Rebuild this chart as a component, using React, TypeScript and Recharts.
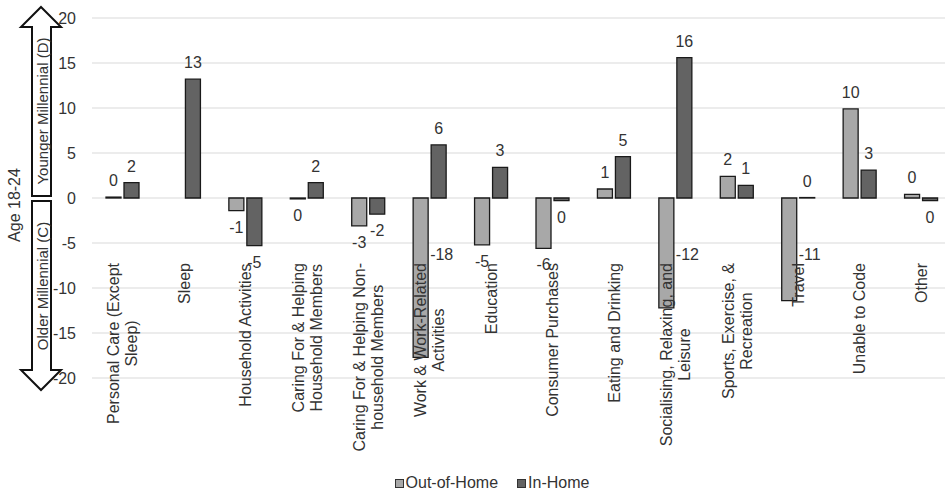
import React from 'react';
import { BarChart, Bar, XAxis, YAxis, CartesianGrid, LabelList, Legend } from 'recharts';

// activity categories, "\n" marks where the axis label wraps
const categories = [
  'Personal Care (Except\nSleep)',
  'Sleep',
  'Household Activities',
  'Caring For & Helping\nHousehold Members',
  'Caring For & Helping Non-\nhousehold Members',
  'Work & Work-Related\nActivities',
  'Education',
  'Consumer Purchases',
  'Eating and Drinking',
  'Socialising, Relaxing, and\nLeisure',
  'Sports, Exercise, &\nRecreation',
  'Travel',
  'Unable to Code',
  'Other',
];

const outOfHome = [0.1, 0, -1.4, -0.1, -3.1, -17.7, -5.2, -5.6, 1.0, -12.2, 2.4, -11.4, 9.9, 0.4];
const inHome = [1.7, 13.2, -5.3, 1.7, -1.8, 5.9, 3.4, -0.3, 4.6, 15.6, 1.4, 0.05, 3.1, -0.3];

const yTicks = [-20, -15, -10, -5, 0, 5, 10, 15, 20];

const seriesNames = ['Out-of-Home', 'In-Home'];
const seriesColors = ['#a8a8a8', '#636363'];

const data = categories.map((name, i) => ({ name, out: outOfHome[i], home: inHome[i] }));

const FONT = '"Liberation Sans", Arial, sans-serif';
const TEXT = '#333333';

let measureCtx: CanvasRenderingContext2D | null = null;
function textWidth(s: string) {
  if (!measureCtx) measureCtx = document.createElement('canvas').getContext('2d');
  if (!measureCtx) return s.length * 8;
  measureCtx.font = `16px ${FONT}`;
  return measureCtx.measureText(s).width;
}

function CategoryTick(props: any) {
  const { x, y, payload } = props;
  const lines = String(payload.value).split('\n');
  const longest = Math.max(...lines.map(textWidth));
  // labels hang from a line well below the zero axis, reading bottom to top
  const top = y - 115;
  const cy = top + longest / 2;
  return (
    <g transform={`translate(${x},${cy}) rotate(-90)`}>
      {lines.map((l, i) => (
        <text
          key={i}
          x={0}
          y={(i - (lines.length - 1) / 2) * 18}
          textAnchor="middle"
          dominantBaseline="central"
          fontSize={16}
          fontFamily={FONT}
          fill={TEXT}
        >
          {l}
        </text>
      ))}
    </g>
  );
}

function BarLabel(props: any) {
  const { x, y, width, height, value } = props;
  const v = Number(value);
  const top = Math.min(y, y + height);
  const bottom = Math.max(y, y + height);
  const r = Math.round(v);
  const text = String(r === 0 ? 0 : r);
  const common = { fontSize: 16, fontFamily: FONT, fill: TEXT };
  if (v <= -10) {
    return (
      <text x={x + width + 2} y={top + 56} dominantBaseline="central" textAnchor="start" {...common}>
        {text}
      </text>
    );
  }
  if (v >= 0) {
    return (
      <text x={x + width / 2} y={top - 11} textAnchor="middle" {...common}>
        {text}
      </text>
    );
  }
  return (
    <text x={x + width / 2} y={bottom + 22} textAnchor="middle" {...common}>
      {text}
    </text>
  );
}

function LegendContent() {
  return (
    <div
      style={{
        display: 'flex',
        justifyContent: 'center',
        gap: 19,
        fontFamily: FONT,
        fontSize: 16,
        color: TEXT,
        lineHeight: '18px',
      }}
    >
      {seriesNames.map((n, i) => (
        <span key={n} style={{ display: 'flex', alignItems: 'center' }}>
          <span
            style={{
              display: 'inline-block',
              width: 7,
              height: 7,
              background: seriesColors[i],
              border: '1px solid #333',
              marginRight: 2,
            }}
          />
          {n}
        </span>
      ))}
    </div>
  );
}

function AgeArrow() {
  const up = '41,7 61,27 51,27 51,196 32,196 32,27 21,27';
  const down = '32,201 51,201 51,370 61,370 41,390 21,370 32,370';
  return (
    <svg
      width={100}
      height={493}
      style={{ position: 'absolute', left: 0, top: 0, pointerEvents: 'none' }}
    >
      <polygon points={up} fill="#fff" stroke="#111" strokeWidth={2} strokeLinejoin="miter" />
      <polygon points={down} fill="#fff" stroke="#111" strokeWidth={2} strokeLinejoin="miter" />
      <text
        transform="translate(42,111) rotate(-90)"
        textAnchor="middle"
        dominantBaseline="central"
        fontSize={15}
        fontFamily={FONT}
        fill={TEXT}
      >
        Younger Millennial (D)
      </text>
      <text
        transform="translate(42,286) rotate(-90)"
        textAnchor="middle"
        dominantBaseline="central"
        fontSize={15}
        fontFamily={FONT}
        fill={TEXT}
      >
        Older Millennial (C)
      </text>
      <text
        transform="translate(14,205) rotate(-90)"
        textAnchor="middle"
        dominantBaseline="central"
        fontSize={16}
        fontFamily={FONT}
        fill={TEXT}
      >
        Age 18-24
      </text>
    </svg>
  );
}

export default function App() {
  return (
    <div
      style={{
        position: 'absolute',
        left: 0,
        top: 0,
        width: 945,
        height: 493,
        overflow: 'hidden',
        background: '#fff',
      }}
    >
      <BarChart
        width={960}
        height={493}
        data={data}
        margin={{ top: 18, right: 8, bottom: 85, left: 12 }}
        barSize={15}
        barGap={3}
      >
        <CartesianGrid vertical={false} stroke="#d9d9d9" strokeWidth={1} />
        <YAxis
          width={80}
          domain={[-20, 20]}
          ticks={yTicks}
          axisLine={false}
          tickLine={false}
          tickSize={0}
          tickMargin={16}
          tick={{ fontSize: 16, fill: TEXT, fontFamily: FONT }}
          interval={0}
        />
        <Bar dataKey="out" name={seriesNames[0]} fill={seriesColors[0]} stroke="#1a1a1a" strokeWidth={1.3} isAnimationActive={false}>
          <LabelList dataKey="out" content={BarLabel} />
        </Bar>
        <Bar dataKey="home" name={seriesNames[1]} fill={seriesColors[1]} stroke="#1a1a1a" strokeWidth={1.3} isAnimationActive={false}>
          <LabelList dataKey="home" content={BarLabel} />
        </Bar>
        <XAxis
          dataKey="name"
          height={30}
          axisLine={false}
          tickLine={false}
          tickSize={0}
          tickMargin={0}
          interval={0}
          tick={<CategoryTick />}
        />
        <Legend
          verticalAlign="middle"
          align="center"
          content={<LegendContent />}
          wrapperStyle={{ left: 0, top: 474, width: 984 }}
        />
      </BarChart>
      <AgeArrow />
    </div>
  );
}
